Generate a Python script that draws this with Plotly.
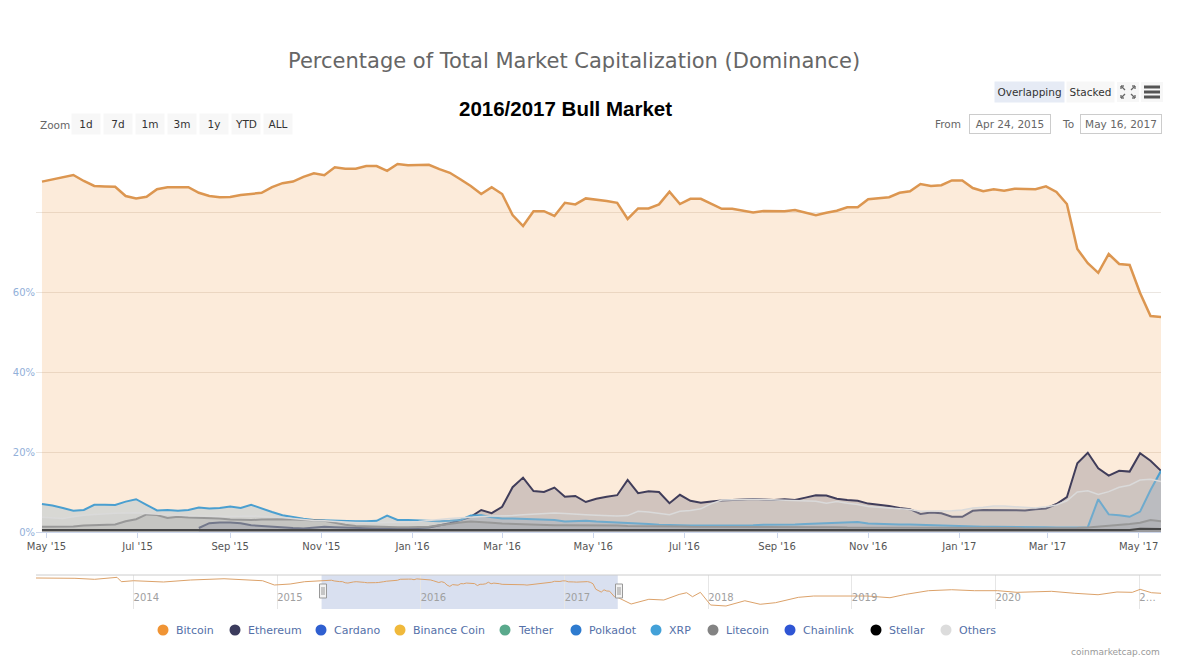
import pandas as pd
import plotly.graph_objects as go

# ---------------- data (weekly snapshots, % of total market cap) ----------------
start_date = "2015-04-28"
n_weeks = 108
dates = pd.date_range(start_date, periods=n_weeks, freq="7D")

bitcoin = [
    87.6, 88.1, 88.7, 89.25, 87.75, 86.5, 86.4, 86.3, 84.0, 83.4,
    83.8, 85.7, 86.2, 86.2, 86.2, 84.8, 84.0, 83.7, 83.75, 84.25,
    84.5, 84.8, 86.2, 87.2, 87.6, 88.8, 89.7, 89.2, 91.2, 90.8,
    90.8, 91.5, 91.5, 90.3, 92.0, 91.7, 91.75, 91.8, 90.7, 89.8,
    88.2, 86.5, 84.5, 86.2, 84.5, 79.25, 76.5, 80.2, 80.2, 79.0,
    82.3, 81.9, 83.4, 83.1, 82.75, 82.3, 78.25, 80.9, 80.9, 81.9,
    85.1, 82.0, 83.3, 83.3, 82.1, 80.8, 80.8, 80.4, 79.9, 80.25,
    80.3, 80.2, 80.5, 79.9, 79.2, 79.8, 80.3, 81.2, 81.2, 83.2,
    83.4, 83.7, 84.8, 85.2, 87.0, 86.5, 86.7, 87.9, 87.9, 86.0,
    85.2, 85.7, 85.3, 85.8, 85.75, 85.7, 86.4, 85.0, 82.0, 70.75,
    67.2, 64.8, 69.5, 67.0, 66.75, 59.75, 54.0, 53.75,
]

ethereum = [
    None, None, None, None, None, None, None, None, None, None,
    None, None, None, None, None, 1.0, 2.2, 2.4, 2.4, 2.2,
    1.7, 1.5, 1.3, 1.2, 1.0, 0.9, 1.1, 1.3, 1.2, 1.1,
    1.0, 0.9, 0.9, 0.9, 0.9, 0.9, 1.0, 1.1, 1.7, 2.2,
    3.0, 3.8, 5.5, 4.7, 6.3, 11.2, 13.6, 10.25, 10.0, 11.1,
    8.8, 9.0, 7.5, 8.3, 8.8, 9.2, 13.0, 9.7, 10.2, 10.0,
    7.2, 9.3, 7.8, 7.3, 7.6, 7.9, 8.0, 8.1, 8.25, 8.1,
    8.0, 8.2, 8.0, 8.6, 9.2, 9.1, 8.3, 8.0, 7.8, 7.1,
    6.8, 6.5, 6.0, 5.7, 4.5, 4.9, 4.7, 3.8, 3.8, 5.3,
    5.5, 5.5, 5.5, 5.4, 5.4, 5.7, 5.9, 7.0, 8.7, 17.2,
    19.8, 15.9, 14.1, 15.3, 15.1, 19.7, 17.8, 15.3,
]

xrp = [
    7.0, 6.6, 6.0, 5.3, 5.5, 6.8, 6.8, 6.75, 7.6, 8.2,
    6.8, 5.4, 5.5, 5.3, 5.5, 6.1, 5.9, 6.0, 6.4, 6.0,
    6.8, 5.8, 5.0, 4.2, 3.7, 3.3, 3.0, 2.9, 2.8, 2.7,
    2.7, 2.7, 2.8, 4.1, 3.0, 3.0, 2.9, 2.8, 2.7, 2.8,
    3.0, 4.1, 4.2, 3.7, 3.4, 3.4, 3.3, 3.3, 3.2, 3.0,
    2.6, 2.7, 2.8, 2.6, 2.5, 2.3, 2.2, 2.1, 2.0, 1.8,
    1.7, 1.6, 1.6, 1.6, 1.6, 1.6, 1.7, 1.7, 1.7, 1.8,
    1.8, 1.9, 1.9, 2.0, 2.1, 2.2, 2.2, 2.3, 2.5, 2.1,
    2.0, 2.0, 1.9, 1.9, 1.8, 1.7, 1.6, 1.5, 1.4, 1.3,
    1.3, 1.3, 1.3, 1.2, 1.2, 1.2, 1.2, 1.1, 1.1, 1.1,
    1.2, 8.2, 4.4, 4.2, 3.8, 5.1, 10.5, 15.3,
]

litecoin = [
    1.3, 1.3, 1.3, 1.4, 1.6, 1.7, 1.7, 1.9, 2.7, 3.2,
    4.4, 4.25, 3.5, 3.8, 3.6, 3.5, 3.4, 3.4, 3.1, 3.0,
    3.0, 3.1, 3.2, 3.2, 3.1, 3.0, 2.9, 2.8, 2.3, 1.8,
    1.5, 1.4, 1.3, 1.3, 1.2, 1.2, 1.2, 1.3, 1.7, 2.1,
    2.4, 2.6, 2.5, 2.3, 2.1, 2.0, 1.9, 1.8, 1.8, 1.7,
    1.7, 1.7, 1.6, 1.6, 1.6, 1.6, 1.5, 1.5, 1.4, 1.4,
    1.4, 1.4, 1.3, 1.3, 1.3, 1.3, 1.3, 1.2, 1.2, 1.2,
    1.2, 1.2, 1.2, 1.2, 1.2, 1.2, 1.2, 1.1, 1.1, 1.1,
    1.1, 1.1, 1.1, 1.1, 1.1, 1.1, 1.1, 1.1, 1.1, 1.0,
    1.0, 1.0, 1.0, 1.0, 0.9, 0.9, 0.9, 0.9, 0.9, 1.0,
    1.1, 1.3, 1.5, 1.75, 2.0, 2.3, 3.0, 2.7,
]

stellar = [
    0.5, 0.5, 0.5, 0.5, 0.5, 0.5, 0.5, 0.5, 0.5, 0.5,
    0.5, 0.5, 0.5, 0.5, 0.5, 0.5, 0.5, 0.5, 0.5, 0.5,
    0.5, 0.5, 0.5, 0.5, 0.5, 0.5, 0.5, 0.5, 0.5, 0.5,
    0.4, 0.4, 0.4, 0.4, 0.4, 0.4, 0.4, 0.4, 0.4, 0.4,
    0.4, 0.4, 0.4, 0.4, 0.4, 0.4, 0.4, 0.4, 0.4, 0.4,
    0.4, 0.4, 0.4, 0.4, 0.4, 0.4, 0.4, 0.4, 0.4, 0.4,
    0.4, 0.4, 0.4, 0.4, 0.4, 0.4, 0.4, 0.4, 0.4, 0.4,
    0.4, 0.4, 0.4, 0.4, 0.4, 0.4, 0.4, 0.4, 0.4, 0.4,
    0.4, 0.4, 0.4, 0.4, 0.4, 0.4, 0.4, 0.4, 0.4, 0.4,
    0.4, 0.4, 0.4, 0.4, 0.4, 0.4, 0.4, 0.4, 0.4, 0.4,
    0.4, 0.4, 0.4, 0.4, 0.5, 0.8, 0.8, 0.75,
]

others = [
    3.7, 3.5, 3.4, 3.8, 4.2, 4.4, 4.6, 4.7, 4.75, 4.8,
    4.6, 4.4, 4.3, 4.2, 4.1, 4.0, 4.0, 3.9, 3.9, 4.0,
    4.0, 3.9, 3.8, 3.6, 3.4, 3.1, 2.9, 2.8, 2.6, 2.5,
    2.4, 2.3, 2.3, 2.4, 2.4, 2.5, 2.6, 2.8, 3.1, 3.4,
    3.6, 3.8, 3.9, 4.0, 4.0, 4.1, 4.3, 4.4, 4.6, 4.75,
    4.6, 4.4, 4.3, 4.2, 4.1, 4.0, 4.1, 5.2, 5.0, 4.6,
    4.3, 5.2, 5.4, 5.8, 7.1, 8.0, 8.1, 8.2, 8.2, 8.1,
    8.0, 8.0, 7.9, 7.8, 7.7, 7.2, 7.6, 7.2, 6.9, 6.4,
    6.2, 6.0, 5.8, 5.6, 5.2, 5.2, 5.3, 5.3, 5.5, 6.0,
    6.2, 6.5, 6.5, 6.3, 6.2, 6.0, 6.3, 6.75, 7.8, 10.0,
    10.3, 9.4, 10.1, 11.2, 11.7, 13.0, 13.2, 12.6,
]

# navigator (full Bitcoin history outside the selected window)
nav_pre_dates = ["2013-04-28", "2013-08-05", "2013-09-24", "2013-11-20", "2013-12-01",
                 "2014-01-01", "2014-03-18", "2014-05-26", "2014-08-19", "2014-10-08",
                 "2014-11-25", "2014-12-25", "2015-02-03", "2015-03-12"]
nav_pre_vals = [93.8, 93.2, 91.1, 95.2, 86.2, 88.2, 85.6, 89.7, 92.3, 89.7,
                88.2, 79.4, 81.4, 86.2]
nav_post_dates = ["2017-06-19", "2017-08-03", "2017-09-10", "2017-10-19", "2017-11-07",
                  "2017-11-22", "2017-12-12", "2018-01-07", "2018-02-15", "2018-04-04",
                  "2018-05-13", "2018-06-21", "2018-08-18", "2018-09-26", "2018-12-12",
                  "2019-02-09", "2019-04-08", "2019-05-17", "2019-07-15", "2019-09-12",
                  "2019-11-09", "2020-01-07", "2020-02-25", "2020-05-23", "2020-07-21",
                  "2020-09-18", "2020-11-05", "2020-12-14", "2021-01-03", "2021-02-01",
                  "2021-02-25"]
nav_post_vals = [40.3, 50.0, 48.5, 60.0, 63.5, 55.3, 64.3, 38.2, 36.2, 47.0,
                 39.7, 43.0, 54.0, 56.7, 57.3, 56.7, 53.2, 60.0, 67.7, 69.7,
                 67.7, 67.7, 64.3, 66.4, 62.3, 59.4, 65.0, 64.3, 70.5, 63.5,
                 62.3]

x_tick_dates = ["2015-05-01", "2015-07-01", "2015-09-01", "2015-11-01", "2016-01-01",
                "2016-03-01", "2016-05-01", "2016-07-01", "2016-09-01", "2016-11-01",
                "2017-01-01", "2017-03-01", "2017-05-01"]
x_tick_labels = ["May '15", "Jul '15", "Sep '15", "Nov '15", "Jan '16", "Mar '16",
                 "May '16", "Jul '16", "Sep '16", "Nov '16", "Jan '17", "Mar '17", "May '17"]
y_tick_vals = [0, 20, 40, 60, 80]
y_tick_labels = ["0%", "20%", "40%", "60%", ""]
nav_tick_dates = ["2014-01-01", "2015-01-01", "2016-01-01", "2017-01-01", "2018-01-01",
                  "2019-01-01", "2020-01-01", "2021-01-01"]
nav_tick_labels = ["2014", "2015", "2016", "2017", "2018", "2019", "2020", "2\u2026"]

legend_names = ["Bitcoin", "Ethereum", "Cardano", "Binance Coin", "Tether", "Polkadot",
                "XRP", "Litecoin", "Chainlink", "Stellar", "Others"]
legend_colors = ["#f09434", "#3c3c5d", "#2f5fd0", "#f0b93b", "#5aa98c", "#2e7bcf",
                 "#43a1d8", "#838383", "#2f55d4", "#000000", "#dcdcdc"]

range_from = "2015-04-24"
range_to = "2017-05-16"

# ---------------- layout geometry (pixels of the page) ----------------
W, H = 1200, 663
PL, PR, PT, PB = 36, 39, 145, 54
PW = W - PL - PR
PH = H - PT - PB
MAIN_BOTTOM = 532
NAV_TOP = 575
LEGEND_Y = 630
legend_px = [163, 235, 321, 400, 505, 576, 656, 713, 790, 876, 946]


def xp(px):
    return (px - PL) / PW


def yp(py):
    return (PT + PH - py) / PH


FONT = "DejaVu Sans"

fig = go.Figure()

series = [
    ("Bitcoin", bitcoin, "#dc9650", "rgba(241,143,48,0.18)", 2.5),
    ("Ethereum", ethereum, "#403d5a", "rgba(60,60,93,0.22)", 2),
    ("XRP", xrp, "#4a9fd0", "rgba(74,140,190,0.2)", 2),
    ("Litecoin", litecoin, "#858585", "rgba(128,128,128,0.22)", 2),
    ("Stellar", stellar, "#111111", "rgba(0,0,0,0.2)", 2),
    ("Others", others, "#dadada", "rgba(200,200,200,0.3)", 1.5),
]
for name, vals, lc, fc, lw in series:
    fig.add_trace(go.Scatter(
        x=dates, y=vals, name=name, mode="lines", fill="tozeroy",
        line=dict(color=lc, width=lw), fillcolor=fc, showlegend=False,
        hoverinfo="skip", xaxis="x", yaxis="y"))

# navigator line
nav_dates = list(pd.to_datetime(nav_pre_dates)) + list(dates) + list(pd.to_datetime(nav_post_dates))
nav_vals = nav_pre_vals + bitcoin + nav_post_vals
fig.add_trace(go.Scatter(
    x=nav_dates, y=nav_vals, mode="lines", line=dict(color="#dca26a", width=1),
    showlegend=False, hoverinfo="skip", xaxis="x2", yaxis="y2"))

main_dom_bottom = yp(MAIN_BOTTOM)
nav_dom_top = yp(NAV_TOP)

fig.update_layout(
    width=W, height=H,
    margin=dict(l=PL, r=PR, t=PT, b=PB),
    paper_bgcolor="white", plot_bgcolor="white",
    font=dict(family=FONT, color="#666666"),
    hovermode=False, showlegend=False,
    xaxis=dict(domain=[0, 1], anchor="y", type="date", range=[range_from, range_to],
               tickvals=x_tick_dates, ticktext=x_tick_labels,
               tickfont=dict(family=FONT, size=10, color="#555555"),
               ticks="outside", ticklen=5, tickcolor="#ccd6eb",
               showgrid=False, showline=True, linecolor="#ccd6eb", zeroline=False),
    yaxis=dict(domain=[main_dom_bottom, 1], anchor="x", range=[0, (MAIN_BOTTOM - PT) / 4.0],
               tickvals=y_tick_vals, ticktext=y_tick_labels,
               tickfont=dict(family=FONT, size=10, color="#92b0d9"),
               showgrid=True, gridcolor="#ebe6e1", zeroline=False, ticks=""),
    xaxis2=dict(domain=[0, 1], anchor="y2", type="date",
                range=[nav_pre_dates[0], nav_post_dates[-1]],
                tickvals=nav_tick_dates, ticktext=nav_tick_labels,
                ticklabelposition="inside right",
                tickfont=dict(family=FONT, size=10, color="#a0a0a0"),
                showgrid=True, gridcolor="#e6e6e6", ticks="", showline=False,
                zeroline=False),
    yaxis2=dict(domain=[0, nav_dom_top], anchor="x2", range=[30, 100], visible=False),
)

shapes = []
annotations = []

# legend (circle symbols + names)
for name, col, cx in zip(legend_names, legend_colors, legend_px):
    shapes.append(dict(type="circle", xref="paper", yref="paper",
                       x0=xp(cx - 5.5), x1=xp(cx + 5.5), y0=yp(LEGEND_Y + 5.5),
                       y1=yp(LEGEND_Y - 5.5), fillcolor=col, line=dict(width=0)))
    annotations.append(dict(text=name, xref="paper", yref="paper", x=xp(cx + 11),
                            y=yp(LEGEND_Y), xanchor="left", yanchor="middle",
                            showarrow=False,
                            font=dict(family=FONT, size=11, color="#5470a8")))

# navigator top border, selection and handles
shapes.append(dict(type="line", xref="paper", yref="paper", x0=0, x1=1,
                   y0=nav_dom_top, y1=nav_dom_top, line=dict(color="#cccccc", width=1)))
shapes.append(dict(type="rect", xref="x2", yref="paper", x0=range_from, x1=range_to,
                   y0=0, y1=nav_dom_top, fillcolor="rgba(102,133,194,0.25)",
                   line=dict(width=0), layer="below"))
for hx in (323, 619):
    shapes.append(dict(type="rect", xref="paper", yref="paper",
                       x0=xp(hx - 3.5), x1=xp(hx + 3.5), y0=yp(598), y1=yp(584),
                       fillcolor="#f2f2f2", line=dict(color="#999999", width=1)))
    shapes.append(dict(type="line", xref="paper", yref="paper",
                       x0=xp(hx - 1), x1=xp(hx - 1), y0=yp(595), y1=yp(587),
                       line=dict(color="#999999", width=1)))
    shapes.append(dict(type="line", xref="paper", yref="paper",
                       x0=xp(hx + 1), x1=xp(hx + 1), y0=yp(595), y1=yp(587),
                       line=dict(color="#999999", width=1)))

# title & subtitle
annotations.append(dict(text="Percentage of Total Market Capitalization (Dominance)",
                        xref="paper", yref="paper", x=xp(574), y=yp(61),
                        xanchor="center", yanchor="middle", showarrow=False,
                        font=dict(family=FONT, size=21, color="#666666")))
annotations.append(dict(text="<b>2016/2017 Bull Market</b>",
                        xref="paper", yref="paper", x=xp(565), y=yp(108),
                        xanchor="center", yanchor="middle", showarrow=False,
                        font=dict(family="Liberation Sans", size=20.5, color="#000000")))

# zoom buttons
annotations.append(dict(text="Zoom", xref="paper", yref="paper", x=xp(38), y=yp(125),
                        xanchor="left", yanchor="middle", showarrow=False,
                        font=dict(family=FONT, size=10.5, color="#666666")))
zoom_buttons = ["1d", "7d", "1m", "3m", "1y", "YTD", "ALL"]
for i, lab in enumerate(zoom_buttons):
    cx = 86 + 32 * i
    annotations.append(dict(text=lab, xref="paper", yref="paper", x=xp(cx), y=yp(124),
                            xanchor="center", yanchor="middle", showarrow=False,
                            width=24, height=16, borderpad=2, bgcolor="#f7f7f7",
                            font=dict(family=FONT, size=10.5, color="#333333")))

# from / to inputs
annotations.append(dict(text="From", xref="paper", yref="paper", x=xp(948), y=yp(124),
                        xanchor="center", yanchor="middle", showarrow=False,
                        font=dict(family=FONT, size=10.5, color="#666666")))
annotations.append(dict(text="To", xref="paper", yref="paper", x=xp(1068), y=yp(124),
                        xanchor="center", yanchor="middle", showarrow=False,
                        font=dict(family=FONT, size=10.5, color="#666666")))
for cx, txt in ((1010, "Apr 24, 2015"), (1121, "May 16, 2017")):
    annotations.append(dict(text=txt, xref="paper", yref="paper", x=xp(cx), y=yp(124),
                            xanchor="center", yanchor="middle", showarrow=False,
                            width=78, height=16, borderpad=1, borderwidth=1,
                            bordercolor="#cccccc", bgcolor="white",
                            font=dict(family=FONT, size=10.5, color="#666666")))

# overlapping / stacked buttons
annotations.append(dict(text="Overlapping", xref="paper", yref="paper", x=xp(1029.5), y=yp(92),
                        xanchor="center", yanchor="middle", showarrow=False,
                        width=65, height=16, borderpad=2, bgcolor="#e6ebf5",
                        font=dict(family=FONT, size=10.5, color="#333333")))
annotations.append(dict(text="Stacked", xref="paper", yref="paper", x=xp(1090.5), y=yp(92),
                        xanchor="center", yanchor="middle", showarrow=False,
                        width=43, height=16, borderpad=2, bgcolor="#f7f7f7",
                        font=dict(family=FONT, size=10.5, color="#333333")))

# fullscreen icon and menu icon
for bx0, bx1 in ((1117, 1139), (1141, 1163)):
    shapes.append(dict(type="rect", xref="paper", yref="paper", x0=xp(bx0), x1=xp(bx1),
                       y0=yp(102), y1=yp(82), fillcolor="#f7f7f7", line=dict(width=0)))
icon_segs = [
    ((1125, 90), (1121, 86)), ((1121, 86), (1124, 86)), ((1121, 86), (1121, 89)),
    ((1131, 90), (1135, 86)), ((1135, 86), (1132, 86)), ((1135, 86), (1135, 89)),
    ((1125, 94), (1121, 98)), ((1121, 98), (1124, 98)), ((1121, 98), (1121, 95)),
    ((1131, 94), (1135, 98)), ((1135, 98), (1132, 98)), ((1135, 98), (1135, 95)),
]
for (ax, ay), (bx, by) in icon_segs:
    shapes.append(dict(type="line", xref="paper", yref="paper", x0=xp(ax), y0=yp(ay),
                       x1=xp(bx), y1=yp(by), line=dict(color="#666666", width=1.3)))
for ly in (87, 92, 97):
    shapes.append(dict(type="line", xref="paper", yref="paper", x0=xp(1144), x1=xp(1160),
                       y0=yp(ly), y1=yp(ly), line=dict(color="#555555", width=3)))

# credit
annotations.append(dict(text="coinmarketcap.com", xref="paper", yref="paper", x=xp(1162),
                        y=yp(652), xanchor="right", yanchor="middle", showarrow=False,
                        font=dict(family=FONT, size=9, color="#999999")))

fig.update_layout(shapes=shapes, annotations=annotations)

fig.write_html("out.html", config={"displayModeBar": False},
               post_script="document.body.style.margin='0px';")
